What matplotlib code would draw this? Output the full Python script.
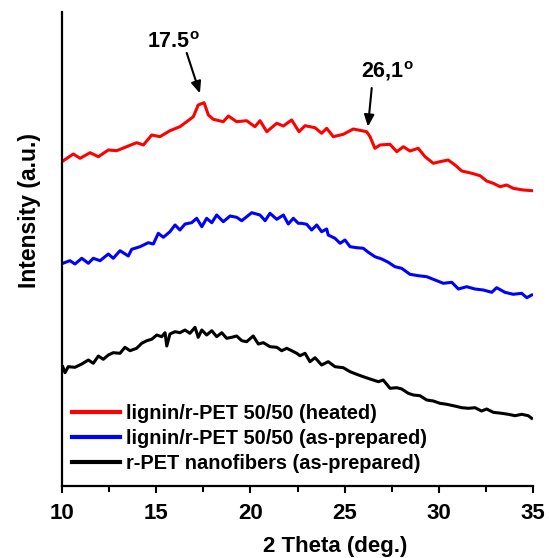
import matplotlib
matplotlib.use("Agg")
import matplotlib.pyplot as plt
from matplotlib.ticker import MultipleLocator, NullLocator

plt.rcParams['font.family'] = ['Liberation Sans', 'DejaVu Sans']
plt.rcParams['font.weight'] = 'bold'
plt.rcParams['mathtext.default'] = 'regular'

# 2-theta (deg) and intensity (a.u.)
theta_heated = [10.07, 10.60, 10.96, 11.49, 11.93, 12.46, 12.90, 13.43, 13.96, 14.32,
                14.76, 15.20, 15.73, 16.26, 16.62, 16.97, 17.23, 17.54, 17.77, 18.03,
                18.56, 18.83, 19.27, 19.80, 20.24, 20.51, 20.87, 21.40, 21.75, 22.06,
                22.19, 22.58, 22.90, 23.43, 23.78, 24.05, 24.40, 24.93, 25.46, 26.17,
                26.35, 26.61, 26.88, 27.41, 27.77, 28.12, 28.47, 28.91, 29.27, 29.71,
                30.06, 30.50, 30.86, 31.22, 31.75, 32.19, 32.54, 32.89, 33.25, 33.60,
                33.95, 34.47, 34.98]
int_heated = [325.3, 332.0, 327.7, 333.3, 329.3, 336.0, 335.3, 339.3, 343.3, 341.0,
              351.0, 349.3, 355.3, 359.3, 364.3, 369.3, 381.0, 383.3, 371.0, 366.7,
              364.3, 370.0, 364.3, 365.3, 359.3, 365.3, 354.3, 362.7, 360.0, 364.3,
              366.0, 354.3, 360.3, 358.3, 352.7, 357.7, 349.3, 351.7, 357.0, 354.3,
              349.3, 337.7, 341.0, 341.7, 334.3, 339.3, 335.0, 337.7, 329.3, 322.7,
              324.3, 326.0, 321.0, 315.0, 312.7, 310.3, 305.0, 302.7, 299.3, 301.0,
              297.7, 296.0, 295.3]

theta_asprep = [10.04, 10.42, 10.69, 11.05, 11.40, 11.66, 12.02, 12.46, 12.72, 13.08,
                13.52, 13.70, 14.14, 14.58, 14.85, 15.11, 15.38, 15.73, 16.00, 16.26,
                16.53, 16.88, 17.15, 17.42, 17.68, 17.95, 18.21, 18.56, 18.92, 19.27,
                19.54, 20.07, 20.51, 20.78, 21.04, 21.40, 21.75, 22.01, 22.28, 22.54,
                22.72, 22.99, 23.25, 23.52, 23.78, 24.05, 24.13, 24.49, 24.76, 25.02,
                25.29, 25.64, 25.99, 26.26, 26.61, 26.97, 27.32, 27.67, 28.03, 28.47,
                28.91, 29.36, 29.80, 30.24, 30.69, 31.04, 31.48, 31.92, 32.36, 32.81,
                33.07, 33.51, 33.95, 34.40, 34.67, 34.93]
int_asprep = [222.7, 225.3, 222.0, 227.7, 222.7, 227.7, 225.3, 232.0, 227.7, 235.3,
              230.0, 236.7, 239.3, 243.3, 242.0, 252.7, 248.7, 254.3, 261.0, 256.0,
              262.0, 263.3, 267.7, 259.3, 267.7, 263.3, 271.0, 264.3, 270.0, 268.7,
              265.3, 273.3, 271.0, 265.3, 272.7, 266.7, 271.0, 262.0, 267.7, 262.7,
              262.7, 261.7, 256.0, 261.0, 254.3, 257.0, 251.0, 247.7, 242.7, 246.0,
              239.3, 238.3, 237.7, 233.7, 229.3, 227.0, 223.7, 219.3, 217.7, 211.7,
              210.3, 209.3, 206.0, 202.7, 203.7, 197.0, 199.3, 197.0, 196.0, 193.7,
              198.3, 193.7, 191.7, 192.7, 188.3, 191.0]

theta_rpet = [10.04, 10.16, 10.33, 10.69, 11.05, 11.40, 11.66, 11.93, 12.19, 12.46,
              12.72, 13.08, 13.34, 13.61, 13.96, 14.23, 14.50, 14.76, 15.03, 15.29,
              15.47, 15.56, 15.73, 16.00, 16.26, 16.53, 16.79, 17.06, 17.23, 17.42,
              17.68, 17.95, 18.21, 18.48, 18.74, 19.01, 19.27, 19.54, 19.80, 20.15,
              20.42, 20.69, 21.04, 21.40, 21.66, 21.93, 22.19, 22.46, 22.63, 22.90,
              23.16, 23.43, 23.78, 24.13, 24.49, 24.93, 25.29, 25.64, 25.99, 26.35,
              26.79, 27.05, 27.41, 27.77, 28.03, 28.38, 28.65, 29.00, 29.36, 29.71,
              30.06, 30.42, 30.77, 31.22, 31.57, 31.92, 32.27, 32.54, 32.89, 33.34,
              33.69, 34.05, 34.40, 34.75, 34.93]
int_rpet = [119.3, 113.3, 119.3, 118.7, 122.0, 126.0, 122.7, 130.0, 126.7, 131.0,
            133.3, 132.7, 138.7, 135.3, 137.7, 142.7, 145.3, 146.7, 151.0, 149.3,
            153.3, 140.0, 152.0, 154.3, 153.3, 156.0, 152.7, 158.7, 148.7, 156.0,
            151.0, 155.3, 149.3, 153.3, 147.7, 148.7, 150.0, 145.3, 144.3, 150.0,
            142.0, 143.3, 139.3, 138.7, 135.3, 137.7, 135.3, 132.7, 130.3, 132.7,
            124.3, 128.3, 121.0, 124.3, 119.3, 118.3, 114.3, 111.7, 109.3, 107.0,
            104.3, 106.0, 97.7, 98.3, 97.0, 92.7, 91.0, 90.3, 86.0, 85.0,
            82.7, 81.7, 80.3, 78.3, 77.7, 78.3, 75.0, 77.0, 73.7, 72.7,
            71.7, 70.3, 71.7, 70.3, 67.7]

labels = ["lignin/r-PET 50/50 (heated)",
          "lignin/r-PET 50/50 (as-prepared)",
          "r-PET nanofibers (as-prepared)"]
colors = ["#ff0000", "#0000ff", "#000000"]

fig = plt.figure(figsize=(5.49, 5.58), dpi=100)
ax = fig.add_axes([62/549, 72/558, 471/549, 474/558])

ax.plot(theta_heated, int_heated, color=colors[0], lw=2.2, label=labels[0])
ax.plot(theta_asprep, int_asprep, color=colors[1], lw=2.2, label=labels[1])
ax.plot(theta_rpet, int_rpet, color=colors[2], lw=2.2, label=labels[2])

ax.set_xlim(10, 35)
ax.set_ylim(0, 474)

for s in ['top', 'right']:
    ax.spines[s].set_visible(False)
for s in ['left', 'bottom']:
    ax.spines[s].set_linewidth(1.6)

ax.xaxis.set_major_locator(MultipleLocator(5))
ax.xaxis.set_minor_locator(MultipleLocator(2.5))
ax.yaxis.set_major_locator(NullLocator())
ax.tick_params(axis='x', which='major', direction='out', length=5, width=1.5,
               labelsize=16, pad=7)
ax.tick_params(axis='x', which='minor', direction='out', length=4, width=1.5)
for t in ax.get_xticklabels():
    t.set_fontweight('bold')

ax.set_xlabel("2 Theta (deg.)", fontsize=16, fontweight='bold')
ax.set_ylabel("Intensity (a.u.)", fontsize=16.5, fontweight='bold')
ax.xaxis.set_label_coords(0.58, -0.106)
ax.yaxis.set_label_coords(-0.045, 0.582)

leg = ax.legend(loc='upper left', bbox_to_anchor=(0.021, 0.174), frameon=False,
                prop={'size': 14.4, 'weight': 'bold'}, handlelength=2.4,
                handletextpad=0.3, labelspacing=0.30, borderaxespad=0.0,
                borderpad=0.0)
for h in leg.get_lines():
    h.set_linewidth(3.0)

arrow = dict(arrowstyle='-|>,head_length=0.7,head_width=0.3', color='black', lw=1.5,
             shrinkA=0, shrinkB=0)
ax.annotate('', xy=(17.32, 392.7), xytext=(16.62, 433.0), arrowprops=arrow)
ax.text(15.89, 444.0, r"17.5$^{o}$", fontsize=15.5, fontweight='bold',
        ha='center', va='center')
ax.annotate('', xy=(26.24, 359.3), xytext=(26.44, 398.0), arrowprops=arrow)
ax.text(27.25, 415.0, r"26,1$^{o}$", fontsize=15.5, fontweight='bold',
        ha='center', va='center')

fig.savefig("out.png", dpi=100)
